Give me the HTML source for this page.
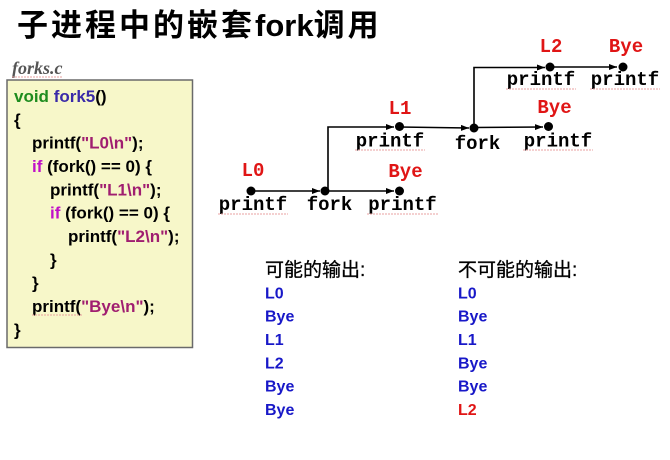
<!DOCTYPE html>
<html><head><meta charset="utf-8"><style>
html,body{margin:0;padding:0;background:#fff;}
body{width:670px;height:460px;overflow:hidden;}
svg{display:block;}
.t{font-family:"Liberation Sans","Noto Sans CJK SC",sans-serif;}
.m{font-family:"Liberation Mono",monospace;font-weight:bold;font-size:19px;}
.c{font-family:"Liberation Sans",sans-serif;font-weight:bold;font-size:17px;fill:#000;}
.r{fill:#e01515;}
.b{font-family:"Liberation Sans",sans-serif;font-weight:bold;font-size:16px;fill:#1818c8;}
.h{font-family:"Liberation Sans","Noto Sans CJK SC",sans-serif;font-size:19px;fill:#000;stroke:#000;stroke-width:0.3;}
</style></head><body>
<svg width="670" height="460" viewBox="0 0 670 460" xmlns="http://www.w3.org/2000/svg">
<defs>
<marker id="ar" markerWidth="8" markerHeight="6" refX="8" refY="3" orient="auto" markerUnits="userSpaceOnUse">
<path d="M0,0 L8,3 L0,6 z" fill="#000"/>
</marker>
</defs>
<!-- Title -->
<text x="17" y="36" class="t" font-size="31" font-weight="bold" fill="#000"><tspan letter-spacing="3">子进程中的嵌套</tspan><tspan letter-spacing="0">fork</tspan><tspan letter-spacing="3">调用</tspan></text>

<!-- forks.c -->
<text x="12" y="74" font-family="'Liberation Serif',serif" font-style="italic" font-weight="bold" font-size="18" fill="#555">forks.c</text>
<line x1="12" y1="77" x2="62" y2="77" stroke="#e8a0a0" stroke-width="1" stroke-dasharray="2,1"/>

<!-- Code box -->
<rect x="7" y="80" width="185.5" height="267.5" fill="#f7f7c9" stroke="#6a6a6a" stroke-width="1.5"/>
<text x="14" y="102" class="c"><tspan fill="#1e8c1e">void</tspan> <tspan fill="#3a2aa8">fork5</tspan>()</text>
<text x="14" y="125.3" class="c">{</text>
<text x="32" y="148.7" class="c">printf(<tspan fill="#a01e70">"L0\n"</tspan>);</text>
<text x="32" y="172" class="c"><tspan fill="#c010c8">if</tspan> (fork() == 0) {</text>
<text x="50" y="195.3" class="c">printf(<tspan fill="#a01e70">"L1\n"</tspan>);</text>
<text x="50" y="218.7" class="c"><tspan fill="#c010c8">if</tspan> (fork() == 0) {</text>
<text x="68" y="242" class="c">printf(<tspan fill="#a01e70">"L2\n"</tspan>);</text>
<text x="50" y="265.3" class="c">}</text>
<text x="32" y="288.7" class="c">}</text>
<text x="32" y="312" class="c">printf(<tspan fill="#a01e70">"Bye\n"</tspan>);</text>
<line x1="32" y1="315" x2="82" y2="315" stroke="#e8a0a0" stroke-width="1" stroke-dasharray="2,1"/>
<text x="14" y="335.3" class="c">}</text>

<!-- Diagram lines -->
<g stroke="#000" stroke-width="1.6" fill="none">
<line x1="251" y1="191" x2="320" y2="191" marker-end="url(#ar)"/>
<line x1="325" y1="191" x2="394" y2="191" marker-end="url(#ar)"/>
<polyline points="328,191 328,127 394,127" marker-end="url(#ar)"/>
<line x1="399" y1="127" x2="469" y2="128" marker-end="url(#ar)"/>
<line x1="474" y1="127.5" x2="543" y2="127" marker-end="url(#ar)"/>
<polyline points="474,128 474,67.5 545,67.5" marker-end="url(#ar)"/>
<line x1="550" y1="67" x2="617" y2="67" marker-end="url(#ar)"/>
</g>
<g fill="#000">
<circle cx="251" cy="191" r="4.5"/>
<circle cx="325" cy="191" r="4.5"/>
<circle cx="399.5" cy="191" r="4.5"/>
<circle cx="399.5" cy="126.5" r="4.5"/>
<circle cx="474" cy="128" r="4.5"/>
<circle cx="548.5" cy="126.5" r="4.5"/>
<circle cx="550" cy="67" r="4.5"/>
<circle cx="623" cy="67" r="4.5"/>
</g>

<!-- Diagram labels -->
<g class="m" text-anchor="middle">
<text x="253" y="176" class="r">L0</text>
<text x="405.5" y="177" class="r">Bye</text>
<text x="400" y="114" class="r">L1</text>
<text x="554.5" y="113" class="r">Bye</text>
<text x="551" y="52" class="r">L2</text>
<text x="626" y="52" class="r">Bye</text>
<text x="253" y="210" fill="#000">printf</text>
<text x="329.5" y="210" fill="#000">fork</text>
<text x="402.5" y="210" fill="#000">printf</text>
<text x="390" y="146.5" fill="#000">printf</text>
<text x="477.5" y="149" fill="#000">fork</text>
<text x="558" y="146.5" fill="#000">printf</text>
<text x="541" y="85" fill="#000">printf</text>
<text x="625" y="85" fill="#000">printf</text>
</g>
<g stroke="#e8a0a0" stroke-width="1" stroke-dasharray="2,1">
<line x1="218" y1="214" x2="288" y2="214"/>
<line x1="367" y1="214" x2="438" y2="214"/>
<line x1="355" y1="150" x2="425" y2="150"/>
<line x1="523" y1="150" x2="593" y2="150"/>
<line x1="506" y1="89" x2="576" y2="89"/>
<line x1="590" y1="89" x2="660" y2="89"/>
</g>

<!-- Output lists -->
<text x="265" y="276" class="h">可能的输出:</text>
<text x="458" y="276" class="h">不可能的输出:</text>
<text x="265" y="298.3" class="b">L0</text>
<text x="265" y="321.7" class="b">Bye</text>
<text x="265" y="345" class="b">L1</text>
<text x="265" y="368.3" class="b">L2</text>
<text x="265" y="391.7" class="b">Bye</text>
<text x="265" y="415" class="b">Bye</text>
<text x="458" y="298.3" class="b">L0</text>
<text x="458" y="321.7" class="b">Bye</text>
<text x="458" y="345" class="b">L1</text>
<text x="458" y="368.3" class="b">Bye</text>
<text x="458" y="391.7" class="b">Bye</text>
<text x="458" y="415" class="b" style="fill:#e01515">L2</text>
</svg>
</body></html>
